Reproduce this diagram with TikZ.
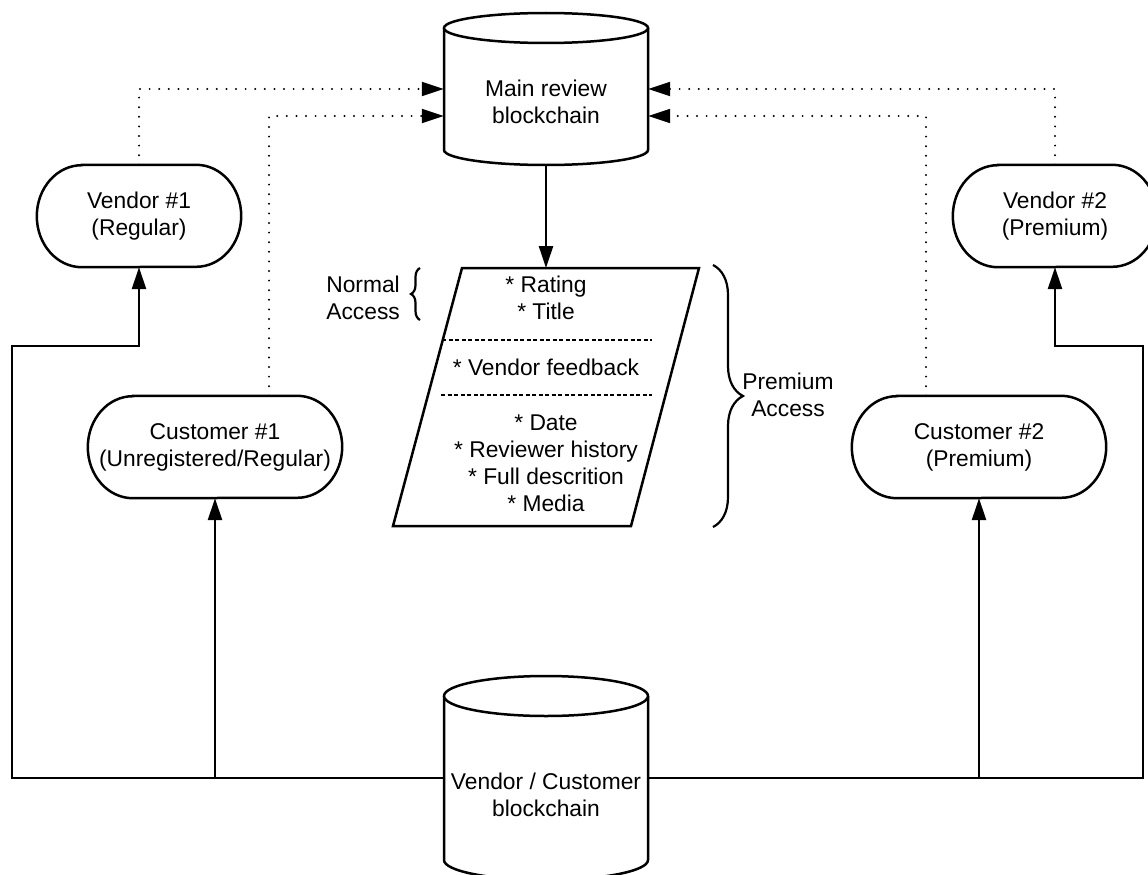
\documentclass[tikz,border=0pt]{standalone}
\usepackage{fontspec}
\setmainfont{Liberation Sans}
\usetikzlibrary{arrows.meta,decorations.pathreplacing,calc}
\newcommand{\drawpill}[1]{%
  \draw[shapeline, fill=white] ($(#1.north west)+(45,0)$) -- ($(#1.north east)+(-45,0)$)
    arc[start angle=-90, end angle=90, x radius=45, y radius=51]
    -- ($(#1.south west)+(45,0)$)
    arc[start angle=90, end angle=270, x radius=45, y radius=51] -- cycle;}
\begin{document}
\begin{tikzpicture}[x=1pt,y=-1pt,
  font=\fontsize{22.8}{27}\selectfont,
  shapeline/.style={line width=2.5pt},
  pill/.style={minimum height=102pt, align=center, inner sep=0pt},
  txt/.style={align=center, inner sep=0pt},
  solidarrow/.style={line width=2.5pt, -{Triangle[length=22pt,width=14pt]}},
  dotarrow/.style={line width=2.2pt, dash pattern=on 0pt off 9.6pt, line cap=round, -{Triangle[length=22pt,width=14pt]}},
  dashsep/.style={line width=1.2pt, dash pattern=on 4pt off 2.5pt},
  bracestyle/.style={line width=2.2pt, decorate},
]
\useasboundingbox (0,0) rectangle (1148,875);
\fill[white] (0,0) rectangle (1148,875);

% ---- nodes ----
\node[pill, minimum width=204pt] (v1) at (139,216) {\phantom{X}};
\node[pill, minimum width=204pt] (v2) at (1055,216) {\phantom{X}};
\node[pill, minimum width=254pt] (c1) at (215,447) {\phantom{X}};
\node[pill, minimum width=254pt] (c2) at (979,447) {\phantom{X}};
\drawpill{v1}
\drawpill{v2}
\drawpill{c1}
\drawpill{c2}
\node[txt] (v1t) at (v1) {Vendor \#1\\(Regular)};
\node[txt] (v2t) at (v2) {Vendor \#2\\(Premium)};
\node[txt] (c1t) at (c1) {Customer \#1\\(Unregistered/Regular)};
\node[txt] (c2t) at (c2) {Customer \#2\\(Premium)};

% main review cylinder
\draw[shapeline, fill=white] (444,28) -- (444,150) arc[start angle=180, end angle=0, x radius=102, y radius=15] -- (648,28);
\draw[shapeline, fill=white] (546,28) ellipse [x radius=102, y radius=15];
\node[txt, minimum width=204pt] (main) at (546,102) {Main review\\blockchain};
\coordinate (mainbot) at (546,165);

% parallelogram
\draw[shapeline, fill=white] (462,268) -- (699,268) -- (631,526) -- (393,526) -- cycle;
\coordinate (ptop) at (546,268);
\draw[dashsep] (442,340) -- (652,340);
\draw[dashsep] (441,395) -- (652,395);
\node[txt] (t1) at (546,298) {* Rating\\* Title};
\node[txt] (t2) at (546,367) {* Vendor feedback};
\node[txt] (t3) at (546,463) {* Date\\* Reviewer history\\* Full descrition\\* Media};

% braces and labels
\node[txt, anchor=east, align=right] (na) at (400,298) {Normal\\Access};
\draw[bracestyle, decoration={brace, amplitude=9pt}] (420,320) -- (420,268);
\draw[bracestyle, decoration={brace, amplitude=30pt}] (713,265) -- (713,527);
\node[txt] (pa) at (788,395) {Premium\\Access};

% ---- connectors ----
\draw[solidarrow] (mainbot) -- (ptop);

\draw[dotarrow] (v1.north) -- (v1.north |- 0,89) -- (main.west |- 0,89);
\draw[dotarrow] (269,0 |- c1.north) -- (269,116) -- (main.west |- 0,116);
\draw[dotarrow] (v2.north) -- (v2.north |- 0,89) -- (main.east |- 0,89);
\draw[dotarrow] (926,0 |- c2.north) -- (926,116) -- (main.east |- 0,116);

\node[txt, minimum width=204pt] (vc) at (546,795) {\phantom{X}};
\coordinate (jl) at (215,778);
\coordinate (jr) at (979,778);
\draw[solidarrow] (vc.west |- 0,778) -- (12,778) -- (12,346) -- (v1.south |- 0,346) -- (v1.south);
\draw[solidarrow] (jl) -- (c1.south);
\draw[solidarrow] (vc.east |- 0,778) -- (1143,778) -- (1143,346) -- (v2.south |- 0,346) -- (v2.south);
\draw[solidarrow] (jr) -- (c2.south);

% vendor / customer cylinder
\draw[shapeline, fill=white] (444,696) -- (444,860) arc[start angle=180, end angle=0, x radius=102, y radius=20] -- (648,696);
\draw[shapeline, fill=white] (546,696) ellipse [x radius=102, y radius=20];
\node[txt] (vct) at (vc) {Vendor / Customer\\blockchain};
\end{tikzpicture}
\end{document}
